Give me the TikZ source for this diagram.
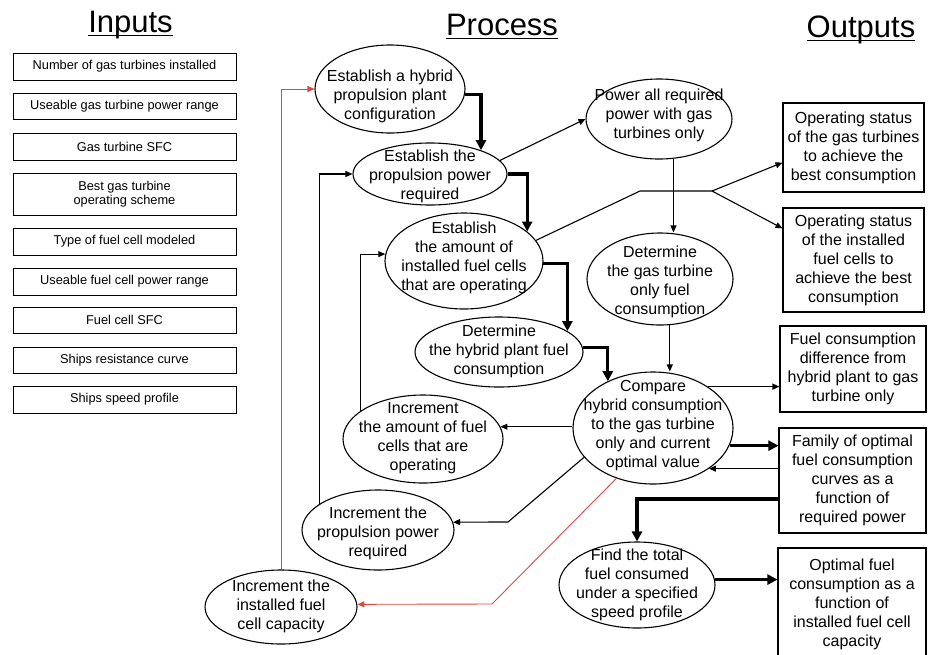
\documentclass[tikz,border=0pt]{standalone}
\usepackage{fontspec}
\setmainfont{Liberation Sans}
\usetikzlibrary{shapes.geometric,arrows.meta,calc}
\definecolor{redline}{RGB}{220,72,62}
\newcommand{\procnode}[7]{%
  \node[proc,minimum width=#4pt,minimum height=#5pt] (#1) at (#2,#3) {};
  \node[ptext] (#1t) at (#2,#6) {#7};}
\begin{document}
\begin{tikzpicture}[x=1pt,y=-1pt,
  proc/.style={draw,ellipse,inner sep=0pt,line width=1.1pt},
  ptext/.style={align=center,inner sep=0pt,font=\fontsize{16}{19}\selectfont},
  inbox/.style={draw,rectangle,inner sep=0pt,line width=1pt,minimum width=223pt,
     align=center,font=\fontsize{12.8}{14.5}\selectfont},
  outbox/.style={draw,rectangle,inner sep=0pt,line width=1.1pt,
     align=center,font=\fontsize{16}{19}\selectfont},
  titletext/.style={inner sep=0pt,anchor=base,font=\fontsize{31}{36}\selectfont},
  thinarr/.style={line width=1.1pt,-{Triangle[length=7pt,width=6pt]}},
  thickarr/.style={line width=3.2pt,-{Triangle[length=10pt,width=10pt]}},
  redarr/.style={line width=0.9pt,draw=redline,-{Triangle[length=7pt,width=6pt]}},
  plainline/.style={line width=1.1pt}]
\useasboundingbox (0,0) rectangle (928,654);

% titles
\node[titletext] (tIn) at (130.5,32) {Inputs};
\node[titletext] (tPr) at (502,35) {Process};
\node[titletext] (tOut) at (861,37) {Outputs};
\foreach \t in {tIn,tPr,tOut}
  \draw[line width=1.8pt] ([yshift=-3.5pt]\t.base west) -- ([yshift=-3.5pt]\t.base east);

% inputs
\node[inbox,minimum height=27pt] (in1) at (124.5,66.5) {Number of gas turbines installed};
\node[inbox,minimum height=26pt] (in2) at (124.5,106) {Useable gas turbine power range};
\node[inbox,minimum height=27pt] (in3) at (124.5,146.5) {Gas turbine SFC};
\node[inbox,minimum height=42pt] (in4) at (124.5,194) {Best gas turbine\\operating scheme};
\node[inbox,minimum height=27pt] (in5) at (124.5,241.5) {Type of fuel cell modeled};
\node[inbox,minimum height=27pt] (in6) at (124.5,281.5) {Useable fuel cell power range};
\node[inbox,minimum height=26pt] (in7) at (124.5,320) {Fuel cell SFC};
\node[inbox,minimum height=26pt] (in8) at (124.5,360) {Ships resistance curve};
\node[inbox,minimum height=27pt] (in9) at (124.5,399.5) {Ships speed profile};

% process ellipses
\procnode{A}{390}{89}{150}{88}{96}{Establish a hybrid\\propulsion plant\\configuration}
\procnode{B}{430}{174}{154}{62}{176}{Establish the\\propulsion power\\required}
\procnode{C}{464}{261}{158}{96}{258}{Establish\\the amount of\\installed fuel cells\\that are operating}
\procnode{D}{499}{352}{168}{70}{351}{Determine\\the hybrid plant fuel\\consumption}
\procnode{E}{423}{439}{160}{88}{438}{Increment\\the amount of fuel\\cells that are\\operating}
\procnode{F}{653}{428}{160}{112}{426}{Compare\\hybrid consumption\\to the gas turbine\\only and current\\optimal value}
\procnode{G}{659}{119}{146}{80}{115}{Power all required\\power with gas\\turbines only}
\procnode{H}{660}{279}{146}{92}{282}{Determine\\the gas turbine\\only fuel\\consumption}
\procnode{I}{378}{530}{152}{80}{533}{Increment the\\propulsion power\\required}
\procnode{J}{281}{607}{152}{74}{606}{Increment the\\installed fuel\\cell capacity}
\procnode{K}{637}{585}{156}{86}{585}{Find the total\\fuel consumed\\under a specified\\speed profile}

% outputs
\node[outbox,minimum width=141pt,minimum height=89pt] (O1) at (853.5,147.5)
  {Operating status\\of the gas turbines\\to achieve the\\best consumption};
\node[outbox,minimum width=141pt,minimum height=104pt] (O2) at (853.5,260)
  {Operating status\\of the installed\\fuel cells to\\achieve the best\\consumption};
\node[outbox,minimum width=146pt,minimum height=86pt] (O3) at (853,369)
  {Fuel consumption\\difference from\\hybrid plant to gas\\turbine only};
\node[outbox,minimum width=147pt,minimum height=105pt] (O4) at (852.5,480.5)
  {Family of optimal\\fuel consumption\\curves as a\\function of\\required power};
\node[outbox,minimum width=148pt,minimum height=112pt] (O5) at (852,604)
  {Optimal fuel\\consumption as a\\function of\\installed fuel cell\\capacity};

% helper points
\coordinate (j1) at (640,191);
\coordinate (j2) at (712,191);
\coordinate (kI) at (508,522);
\coordinate (kJ) at (492,604);

% thick main flow
\draw[thickarr] (A.-4) -| (B.25);
\draw[thickarr] (B.east) -| (C.25);
\draw[thickarr] (C.-2) -| (D.17);
\draw[thickarr] (D.3) -| (F.134);
\draw[thickarr] (F.-13) -- (F.-13 -| O4.west);
\draw[thickarr] (O4.194) -| (K.north);
\draw[thickarr] (K.4) -- (K.4 -| O5.west);

% thin connectors
\draw[thinarr] (B.11) -- (G.west);
\draw[plainline] (C.16) -- (j1) -- (j2);
\draw[thinarr] (j2) -- (O1.192);
\draw[thinarr] (j2) -- (O2.156);
\draw[thinarr] (G.-70) -- (G.-70 |- H.north);
\draw[thinarr] (H.-78) -- (H.-78 |- F.north);
\draw[thinarr] (F.37) -- (F.37 -| O3.west);
\draw[thinarr] (F.-36 -| O4.west) -- (F.-36);
\draw[thinarr] (E.9 -| F.west) -- (E.9);
\draw[thinarr] (F.203) -- (kI) -- (I.6);
\draw[thinarr] (E.156) |- (C.175);
\draw[thinarr] (I.156) |- (B.west);

% red loop
\draw[redarr] (F.234) -- (kJ) -- (J.2);
\draw[redarr] (J.north) |- (A.west);
\end{tikzpicture}
\end{document}
